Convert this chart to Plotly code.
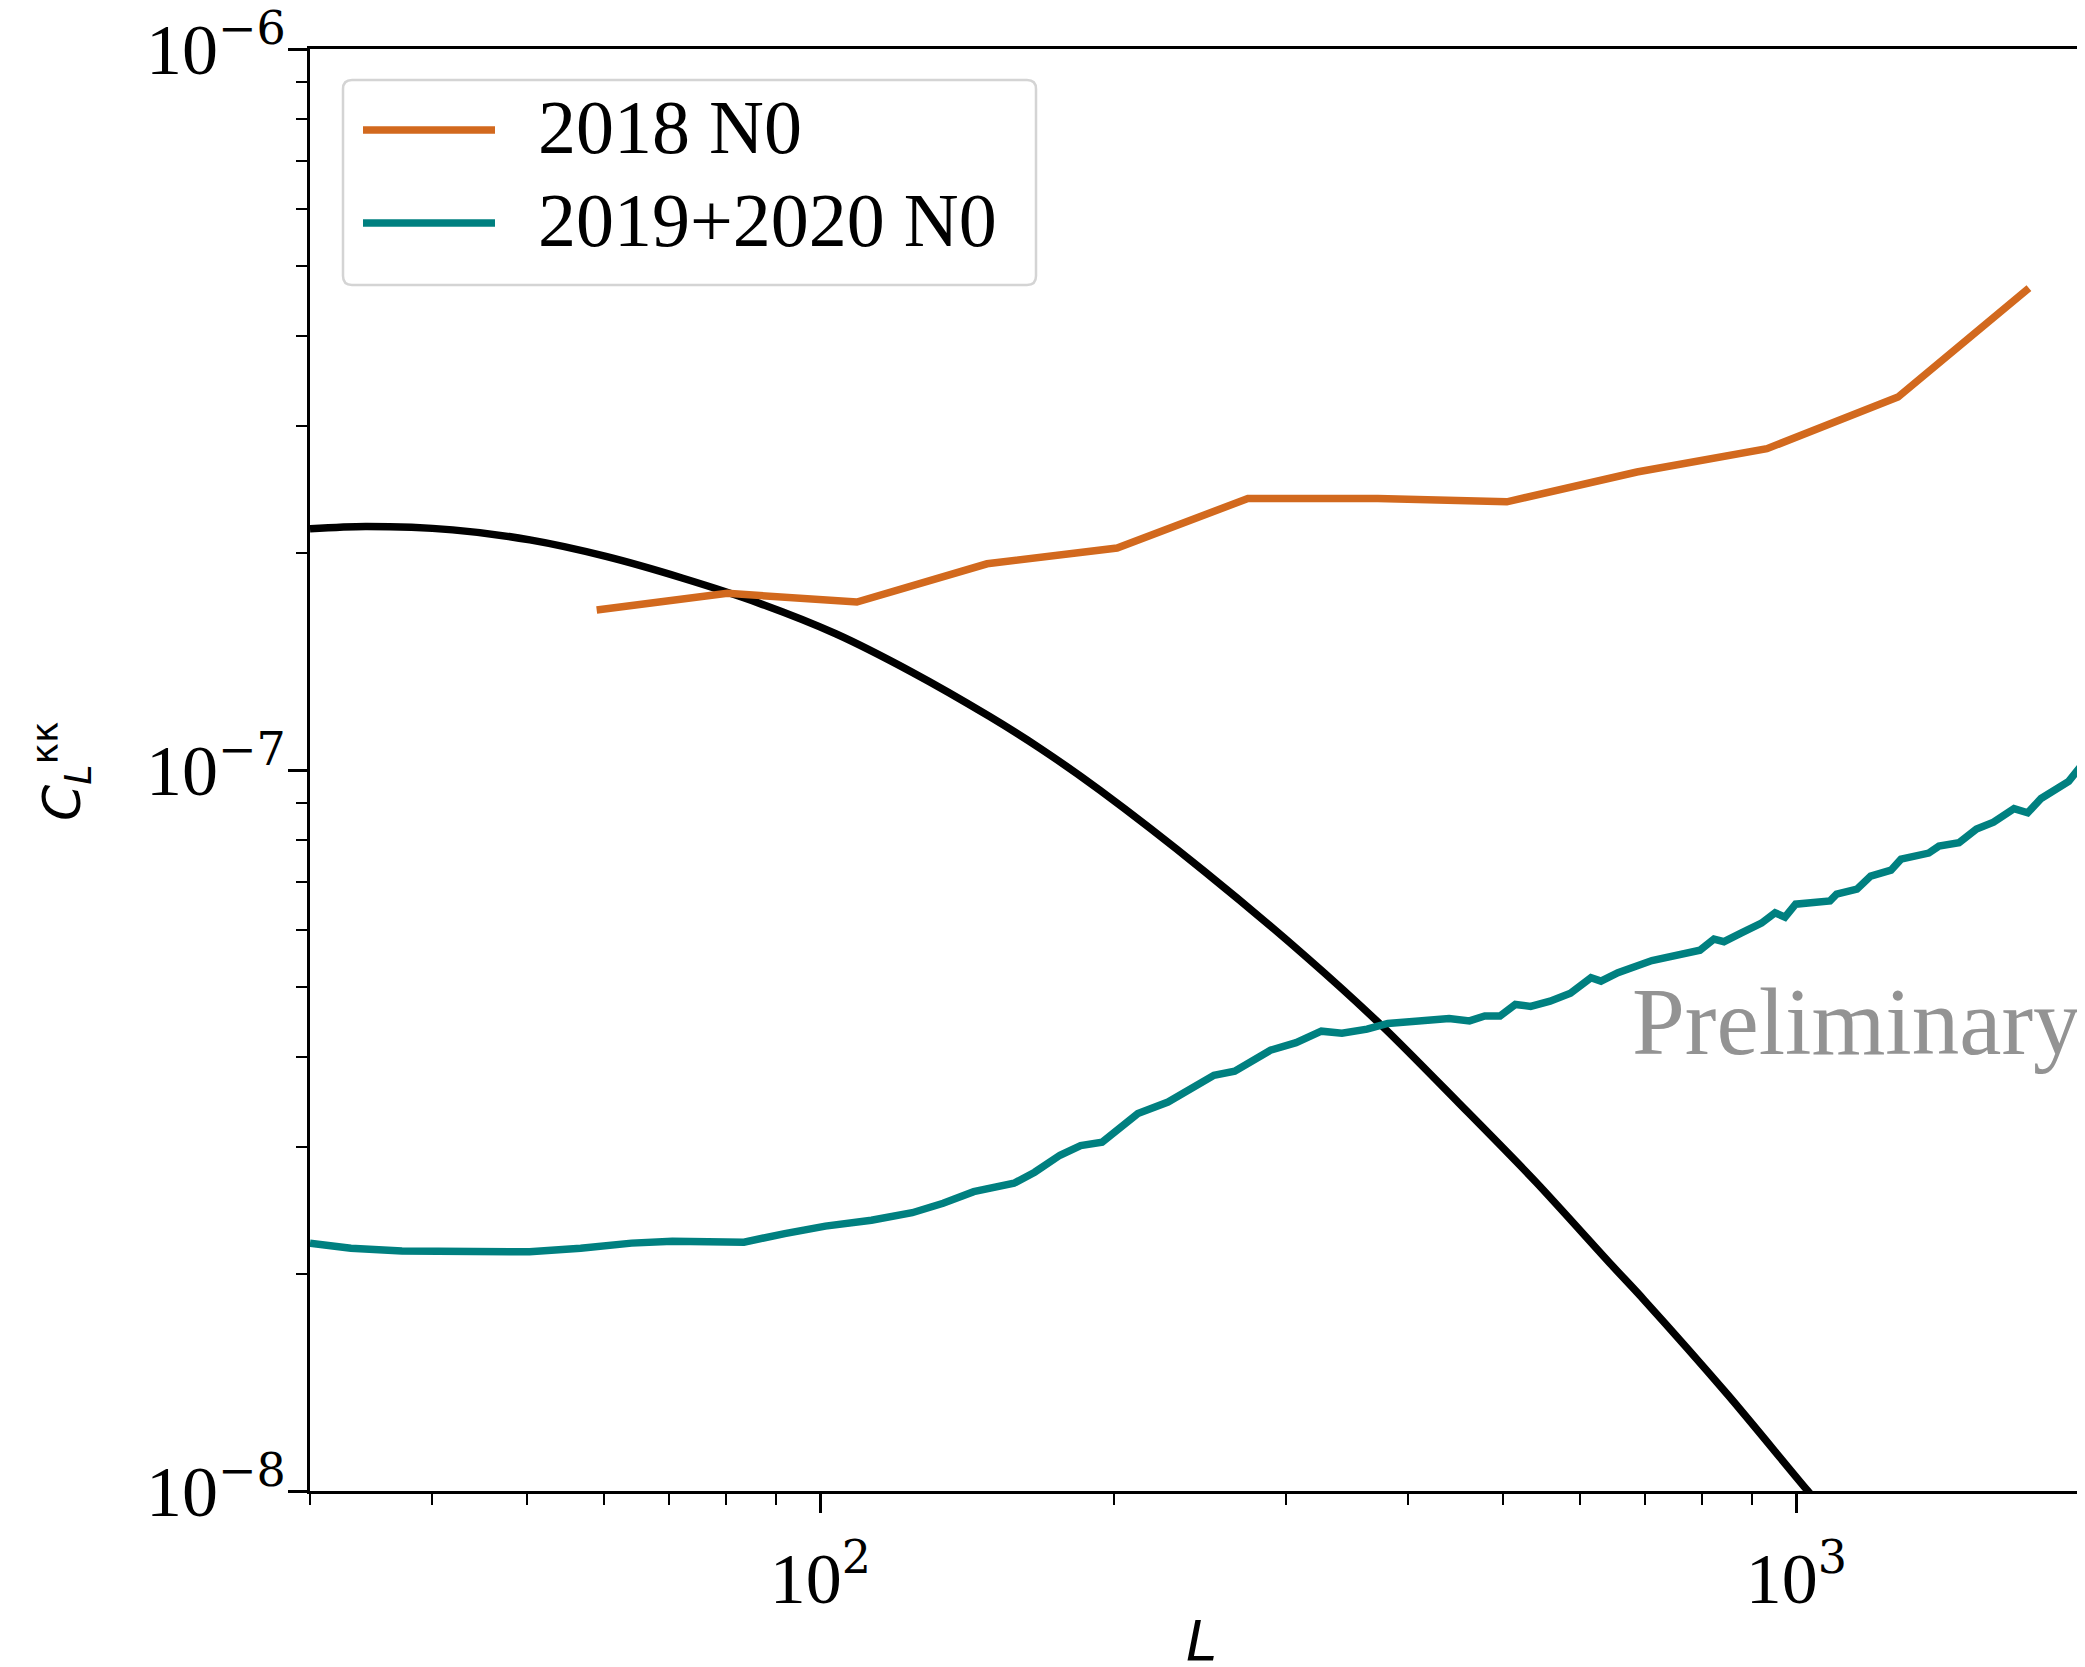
import math
import plotly.graph_objects as go

# ---------------- data ----------------
L_theory = [30.0, 34.2, 42.0, 50.4, 60.3, 72.3, 86.5, 103.7, 124.1, 148.8, 167.8, 193.4,
            247.2, 314.5, 376.9, 451.1, 540.6, 647.1, 698.1, 850.2, 1027.6, 1200.0]
C_theory = [2.16e-7, 2.176e-7, 2.153e-7, 2.085e-7, 1.978e-7, 1.845e-7, 1.704e-7, 1.545e-7,
            1.367e-7, 1.188e-7, 1.0726e-7, 9.373e-8, 7.244e-8, 5.508e-8, 4.406e-8, 3.451e-8,
            2.685e-8, 2.056e-8, 1.841e-8, 1.361e-8, 1.0e-8, 7.82e-9]

L_2018 = [59.0, 80.3, 109.0, 148.2, 201.4, 274.2, 372.6, 505.1, 686.5, 933.0, 1271.0, 1731.0]
N0_2018 = [1.667e-7, 1.758e-7, 1.710e-7, 1.932e-7, 2.032e-7, 2.38e-7, 2.38e-7, 2.355e-7,
           2.59e-7, 2.79e-7, 3.29e-7, 4.66e-7]

L_1920 = [30.0, 33.04, 37.27, 42.04, 50.36, 56.81, 64.06, 70.53, 76.72, 83.50, 91.94, 101.2,
          112.8, 124.2, 133.6, 143.6, 157.9, 165.8, 176.0, 184.8, 194.4, 211.5, 227.1, 253.1,
          265.8, 289.2, 307.2, 326.1, 342.3, 363.2, 381.4, 410.1, 440.8, 462.5, 479.5, 497.1,
          515.3, 534.3, 559.3, 586.9, 616.0, 630.7, 656.5, 711.3, 740.4, 796.6, 823.3, 843.0,
          877.5, 921.0, 951.0, 973.6, 998.3, 1082.6, 1099.6, 1153.7, 1191.7, 1250.2, 1280.0,
          1334.0, 1366.5, 1400.1, 1467.8, 1529.6, 1592.3, 1671.2, 1726.1, 1781.2, 1870.8,
          1901.0, 1976.0]
N0_1920 = [2.207e-8, 2.171e-8, 2.152e-8, 2.147e-8, 2.147e-8, 2.171e-8, 2.207e-8, 2.220e-8,
           2.212e-8, 2.214e-8, 2.275e-8, 2.330e-8, 2.374e-8, 2.432e-8, 2.507e-8, 2.601e-8,
           2.672e-8, 2.768e-8, 2.922e-8, 3.013e-8, 3.046e-8, 3.338e-8, 3.463e-8, 3.773e-8,
           3.821e-8, 4.087e-8, 4.186e-8, 4.343e-8, 4.315e-8, 4.371e-8, 4.451e-8, 4.487e-8,
           4.521e-8, 4.487e-8, 4.559e-8, 4.559e-8, 4.730e-8, 4.700e-8, 4.779e-8, 4.903e-8,
           5.152e-8, 5.095e-8, 5.236e-8, 5.441e-8, 5.500e-8, 5.625e-8, 5.827e-8, 5.779e-8,
           5.939e-8, 6.132e-8, 6.339e-8, 6.250e-8, 6.515e-8, 6.584e-8, 6.727e-8, 6.834e-8,
           7.125e-8, 7.262e-8, 7.522e-8, 7.586e-8, 7.669e-8, 7.842e-8, 7.925e-8, 8.279e-8,
           8.467e-8, 8.837e-8, 8.722e-8, 9.130e-8, 9.487e-8, 9.643e-8, 1.029e-7]

SUP = '<sup><span style="font-family:DejaVu Serif;font-size:46px">{}</span></sup>'
x_major = [100, 1000]
x_major_text = ["10" + SUP.format("2"), "10" + SUP.format("3")]
x_minor = [30, 40, 50, 60, 70, 80, 90, 200, 300, 400, 500, 600, 700, 800, 900]
y_major = [1e-8, 1e-7, 1e-6]
y_major_text = ["10" + SUP.format("\u22128"), "10" + SUP.format("\u22127"),
                "10" + SUP.format("\u22126")]
y_minor = [k * 1e-8 for k in range(2, 10)] + [k * 1e-7 for k in range(2, 10)]

series_names = ["2018 N0", "2019+2020 N0"]
ORANGE = "#D2691E"
TEAL = "#008080"

# ---------------- layout geometry ----------------
# the page body has an 8px default margin, so the figure is drawn 8px in from the window corner
OFF = 8
WIN_W, WIN_H = 2085, 1667
W, H = WIN_W - OFF, WIN_H - OFF
# plot-area edges in window pixels
P_LEFT, P_RIGHT, P_TOP, P_BOTTOM = 310, 2083, 49, 1491
ML, MT = P_LEFT - OFF, P_TOP - OFF
MR, MB = W - (P_RIGHT - OFF), H - (P_BOTTOM - OFF)
PW, PH = P_RIGHT - P_LEFT, P_BOTTOM - P_TOP


def px_x(px):
    return (px - P_LEFT) / PW


def px_y(py):
    return (P_BOTTOM - py) / PH


SERIF = "Liberation Serif"
SANS = "DejaVu Sans"
LW = 7.5

fig = go.Figure()
fig.add_trace(go.Scatter(x=L_theory, y=C_theory, mode="lines", name="theory",
                         line=dict(color="black", width=LW, shape="spline", smoothing=0.8),
                         showlegend=False))
fig.add_trace(go.Scatter(x=L_2018, y=N0_2018, mode="lines", name=series_names[0],
                         line=dict(color=ORANGE, width=LW), showlegend=False))
fig.add_trace(go.Scatter(x=L_1920, y=N0_1920, mode="lines", name=series_names[1],
                         line=dict(color=TEAL, width=LW), showlegend=False))

axis_common = dict(
    type="log", showgrid=False, zeroline=False,
    ticks="outside", ticklen=19, tickwidth=2.5, tickcolor="black",
    showline=True, linecolor="black", linewidth=2.7, mirror=True,
    tickfont=dict(family=SERIF, size=72, color="black"),
    tickmode="array", ticklabeloverflow="allow",
)
fig.update_xaxes(**axis_common, range=[math.log10(30), 3.2937],
                 tickvals=x_major, ticktext=x_major_text, ticklabelstandoff=4,
                 minor=dict(tickmode="array", tickvals=x_minor, ticks="outside",
                            ticklen=11, tickwidth=2, tickcolor="black", showgrid=False))
fig.update_yaxes(**axis_common, range=[-8, -6],
                 tickvals=y_major, ticktext=y_major_text, ticklabelstandoff=-12,
                 minor=dict(tickmode="array", tickvals=y_minor, ticks="outside",
                            ticklen=11, tickwidth=2, tickcolor="black", showgrid=False))

# ---------------- legend drawn as matplotlib-style box ----------------
bx0, bx1, by0, by1 = px_x(343), px_x(1036), px_y(285), px_y(80)
rx, ry = 9 / PW, 9 / PH
box_path = (f"M {bx0+rx},{by0} L {bx1-rx},{by0} Q {bx1},{by0} {bx1},{by0+ry} "
            f"L {bx1},{by1-ry} Q {bx1},{by1} {bx1-rx},{by1} L {bx0+rx},{by1} "
            f"Q {bx0},{by1} {bx0},{by1-ry} L {bx0},{by0+ry} Q {bx0},{by0} {bx0+rx},{by0} Z")
shapes = [dict(type="path", path=box_path, xref="paper", yref="paper",
               fillcolor="rgba(255,255,255,0.8)", line=dict(color="#d4d4d4", width=2.5),
               layer="above")]
annotations = []
for name, color, yrow in [(series_names[0], ORANGE, 130), (series_names[1], TEAL, 223)]:
    shapes.append(dict(type="line", xref="paper", yref="paper",
                       x0=px_x(363), x1=px_x(495), y0=px_y(yrow), y1=px_y(yrow),
                       line=dict(color=color, width=LW), layer="above"))
    annotations.append(dict(text=name, xref="paper", yref="paper", x=px_x(536), y=px_y(yrow - 3),
                            xanchor="left", yanchor="middle", showarrow=False,
                            font=dict(family=SERIF, size=76, color="black")))

# axis titles
annotations.append(dict(text="<i>C</i><sub><i>L</i></sub><sup>\u03ba\u03ba</sup>",
                        xref="paper", yref="paper", x=px_x(62), y=px_y(771),
                        xanchor="center", yanchor="middle", textangle=-90, showarrow=False,
                        font=dict(family=SANS, size=52, color="black")))
annotations.append(dict(text="<i>L</i>", xref="paper", yref="paper", x=px_x(1201), y=px_y(1640),
                        xanchor="center", yanchor="middle", showarrow=False,
                        font=dict(family=SANS, size=56, color="black")))
# watermark
annotations.append(dict(text="Preliminary", xref="paper", yref="paper", x=px_x(1630), y=px_y(1022),
                        xanchor="left", yanchor="middle", showarrow=False,
                        font=dict(family=SERIF, size=95, color="#939393")))

fig.update_layout(width=W, height=H, margin=dict(l=ML, r=MR, t=MT, b=MB, autoexpand=False),
                  paper_bgcolor="white", plot_bgcolor="white", showlegend=False,
                  shapes=shapes, annotations=annotations)

fig.write_html("out.html")
